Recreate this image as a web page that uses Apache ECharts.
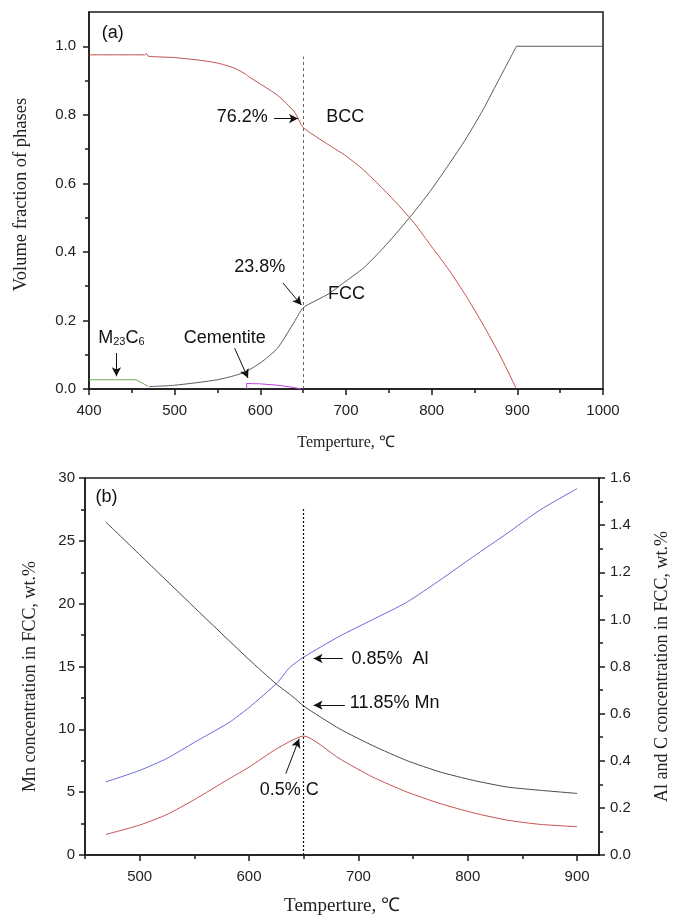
<!DOCTYPE html>
<html>
<head>
<meta charset="utf-8">
<script src="https://cdn.jsdelivr.net/npm/echarts@6/dist/echarts.min.js"></script>
<style>
html,body{margin:0;padding:0;background:#fff;}
#c{width:679px;height:917px;}
</style>
</head>
<body>
<div id="c"></div>
<script>
// ---------- (a) Volume fraction of phases ----------
const bccT = [400,465,467,469,500,530,550,570,584,586,600,620,640,650,680,700,720,740,760,780,800,820,840,860,880,899];
const bccV = [0.975,0.975,0.979,0.971,0.967,0.959,0.951,0.936,0.917,0.912,0.890,0.857,0.808,0.763,0.712,0.680,0.640,0.592,0.540,0.483,0.415,0.348,0.272,0.188,0.097,0.0];
const fccT = [470,500,550,580,600,620,640,650,680,700,720,740,760,780,800,820,840,860,880,899,1000];
const fccV = [0.007,0.011,0.027,0.047,0.076,0.119,0.197,0.237,0.278,0.315,0.352,0.402,0.458,0.518,0.583,0.655,0.730,0.815,0.910,1.0,1.0];
const m23T = [400,455,469];
const m23V = [0.027,0.027,0.008];
const cemT = [584,584,600,620,640,648];
const cemV = [0.0,0.016,0.015,0.011,0.004,0.0];
const yTicksA = [0,0.2,0.4,0.6,0.8,1.0];
const yMinorA = [0.1,0.3,0.5,0.7,0.9];

// ---------- (b) FCC compositions ----------
const mnT = [469,500,550,600,625,640,650,683,713,744,775,805,836,866,900];
const mnV = [26.5,23.9,19.7,15.55,13.6,12.6,11.85,10.03,8.71,7.52,6.6,5.94,5.41,5.15,4.9];
const alT = [469,500,525,550,582,600,626,637,650,683,713,744,775,805,836,866,900];
const alV = [0.31,0.359,0.41,0.478,0.563,0.626,0.732,0.795,0.84,0.929,0.999,1.072,1.168,1.266,1.365,1.464,1.555];
const cT = [469,500,525,550,582,600,625,650,683,713,744,775,805,836,866,900];
const cV = [0.087,0.127,0.172,0.235,0.324,0.373,0.45,0.505,0.408,0.331,0.268,0.218,0.179,0.148,0.13,0.12];
const xTicksB = [500,600,700,800,900];
const xMinorB = [450,550,650,750,850];

const zip = (a,b) => a.map((t,i)=>[t,b[i]]);
const SANS = 'Liberation Sans, Arial, sans-serif';
const SERIF = 'Liberation Serif, Times New Roman, serif';
const AX = '#1a1a1a';
const SM = 0.2;

// FCC: smooth rising part, straight fully-austenitic tail
const fccAll = zip(fccT, fccV);
const fccFull = fccV.indexOf(1.0);
const fccRise = fccAll.slice(0, fccFull + 1);
const fccTail = fccAll.slice(fccFull);

const labelStyle = {color:'#222', fontFamily:SANS, fontSize:15};
const nameStyle = {color:'#222', fontFamily:SERIF, fontSize:17};
const tickLine = {color:AX, width:1.5};

function arrow(from, to){ return [{coord:from},{coord:to}]; }
const arrowStyle = {color:'#111', width:1, type:'solid'};

const chart = echarts.init(document.getElementById('c'), null, {renderer:'canvas'});

const option = {
  backgroundColor:'#fff',
  animation:false,
  grid:[
    {left:89, right:76, top:12, height:377, show:true, borderColor:AX, borderWidth:1.5, backgroundColor:'transparent'},
    {left:85, right:80, top:478, height:379, show:true, borderColor:AX, borderWidth:1.5, backgroundColor:'transparent'}
  ],
  xAxis:[
    {gridIndex:0, type:'value', min:400, max:1000, interval:100, position:'bottom',
     name:'Temperture, ℃', nameLocation:'middle', nameGap:46, nameTextStyle:Object.assign({},nameStyle,{fontSize:16}),
     axisLine:{show:true, onZero:false, lineStyle:tickLine},
     axisTick:{show:true, length:6, lineStyle:tickLine},
     minorTick:{show:true, splitNumber:2, length:4, lineStyle:tickLine},
     axisLabel:Object.assign({margin:14, formatter:v=>String(v)}, labelStyle),
     splitLine:{show:false}},
    {gridIndex:1, type:'value', min:450, max:920, position:'bottom',
     name:'Temperture, ℃', nameLocation:'middle', nameGap:42, nameTextStyle:Object.assign({},nameStyle,{fontSize:19}),
     axisLine:{show:true, onZero:false, lineStyle:tickLine},
     axisTick:{show:true, length:6, customValues:xTicksB, lineStyle:tickLine},
     axisLabel:Object.assign({margin:14, customValues:xTicksB, formatter:v=>String(v)}, labelStyle),
     splitLine:{show:false}},
    {gridIndex:1, type:'value', min:450, max:920, position:'bottom',
     axisLine:{show:false, onZero:false},
     axisTick:{show:true, length:4, customValues:xMinorB, lineStyle:tickLine},
     axisLabel:{show:false},
     splitLine:{show:false}}
  ],
  yAxis:[
    {gridIndex:0, type:'value', min:0, max:1.1, position:'left',
     name:'Volume fraction of phases', nameLocation:'middle', nameGap:58,
     nameTextStyle:Object.assign({},nameStyle,{fontSize:18.5, padding:[0,0,0,12]}),
     axisLine:{show:true, lineStyle:tickLine},
     axisTick:{show:true, length:6, customValues:yTicksA, lineStyle:tickLine},
     axisLabel:Object.assign({margin:13, customValues:yTicksA, formatter:v=>v.toFixed(1)}, labelStyle),
     splitLine:{show:false}},
    {gridIndex:1, type:'value', min:0, max:30, interval:5, position:'left',
     name:'Mn concentration in FCC, wt.%', nameLocation:'middle', nameGap:46,
     nameTextStyle:Object.assign({},nameStyle,{fontSize:18, padding:[0,20,0,0]}),
     axisLine:{show:true, lineStyle:tickLine},
     axisTick:{show:true, length:6, lineStyle:tickLine},
     minorTick:{show:true, splitNumber:2, length:4, lineStyle:tickLine},
     axisLabel:Object.assign({margin:10}, labelStyle),
     splitLine:{show:false}},
    {gridIndex:1, type:'value', min:0, max:1.6, interval:0.2, position:'right',
     name:'Al and C concentration in FCC, wt.%', nameLocation:'middle', nameGap:54, nameTextStyle:Object.assign({},nameStyle,{fontSize:18}),
     axisLine:{show:true, lineStyle:tickLine},
     axisTick:{show:true, length:6, lineStyle:tickLine},
     minorTick:{show:true, splitNumber:2, length:4, lineStyle:tickLine},
     axisLabel:Object.assign({margin:11, formatter:v=>v.toFixed(1)}, labelStyle),
     splitLine:{show:false}},
    {gridIndex:0, type:'value', min:0, max:1.1, position:'left',
     axisLine:{show:false},
     axisTick:{show:true, length:4, customValues:yMinorA, lineStyle:tickLine},
     axisLabel:{show:false},
     splitLine:{show:false}}
  ],
  series:[
    {type:'line', name:'BCC', xAxisIndex:0, yAxisIndex:0, data:zip(bccT,bccV), symbol:'none', smooth:SM,
     lineStyle:{color:'#c0504d', width:1}, itemStyle:{color:'#c0504d'}, z:3,
     markLine:{silent:true, symbol:['none','none'], label:{show:false},
       lineStyle:{color:'#666', width:1, type:[3,3]},
       data:[[{coord:[650,0]},{coord:[650,0.97]}]]}},
    {type:'line', name:'FCC', xAxisIndex:0, yAxisIndex:0, data:fccRise, symbol:'none', smooth:SM,
     lineStyle:{color:'#5a5a5a', width:1}, itemStyle:{color:'#5a5a5a'}, z:3,
     markLine:{silent:true, symbol:['none','arrow'], symbolSize:[7,9], label:{show:false},
       lineStyle:arrowStyle,
       data:[
         arrow([616,0.789],[644,0.789]),
         arrow([626.5,0.309],[648,0.245]),
         arrow([432,0.105],[432,0.037]),
         arrow([570,0.119],[585.6,0.032])
       ]}},
    {type:'line', name:'FCC', xAxisIndex:0, yAxisIndex:0, data:fccTail, symbol:'none',
     lineStyle:{color:'#5a5a5a', width:1}, itemStyle:{color:'#5a5a5a'}, z:3},
    {type:'line', name:'M23C6', xAxisIndex:0, yAxisIndex:0, data:zip(m23T,m23V), symbol:'none',
     lineStyle:{color:'#70a860', width:1}, itemStyle:{color:'#70a860'}, z:3},
    {type:'line', name:'Cementite', xAxisIndex:0, yAxisIndex:0, data:zip(cemT,cemV), symbol:'none',
     lineStyle:{color:'#c040e0', width:1}, itemStyle:{color:'#c040e0'}, z:3},

    {type:'line', name:'Mn', xAxisIndex:1, yAxisIndex:1, data:zip(mnT,mnV), symbol:'none', smooth:SM,
     lineStyle:{color:'#4a4a4a', width:1}, itemStyle:{color:'#4a4a4a'}, z:3,
     markLine:{silent:true, symbol:['none','none'], label:{show:false},
       lineStyle:{color:'#111', width:1.2, type:[2,2]},
       data:[[{coord:[650,0]},{coord:[650,27.7]}]]}},
    {type:'line', name:'Al', xAxisIndex:1, yAxisIndex:2, data:zip(alT,alV), symbol:'none', smooth:SM,
     lineStyle:{color:'#6868dc', width:1}, itemStyle:{color:'#6868dc'}, z:3},
    {type:'line', name:'C', xAxisIndex:1, yAxisIndex:2, data:zip(cT,cV), symbol:'none', smooth:SM,
     lineStyle:{color:'#c85050', width:1}, itemStyle:{color:'#c85050'}, z:3,
     markLine:{silent:true, symbol:['none','arrow'], symbolSize:[7,9], label:{show:false},
       lineStyle:arrowStyle,
       data:[
         arrow([685.8,0.834],[659,0.834]),
         arrow([687.6,0.636],[659,0.636]),
         arrow([633.6,0.345],[645.8,0.493])
       ]}}
  ]
};
chart.setOption(option);

// text annotations placed in data coordinates
const notesA = [
  {t:'(a)', at:[414.8,1.04], align:'left'},
  {t:'76.2%', at:[579,0.793], align:'center'},
  {t:'BCC', at:[677,0.793], align:'left'},
  {t:'23.8%', at:[599.3,0.357], align:'center'},
  {t:'FCC', at:[679,0.277], align:'left'},
  {t:'{m|M}{s|23}{m|C}{s|6}', at:[437.8,0.148], align:'center', rich:true},
  {t:'Cementite', at:[558.4,0.148], align:'center'}
];
const notesB = [
  {t:'(b)', at:[459.7,28.5], align:'left'},
  {t:'0.85%  Al', at:[693.6,15.63], align:'left'},
  {t:'11.85% Mn', at:[692.2,12.09], align:'left'},
  {t:'0.5% C', at:[609.8,5.15], align:'left'}
];
const graphics = [];
function addNotes(list, xi, yi){
  list.forEach(n=>{
    const p = chart.convertToPixel({xAxisIndex:xi, yAxisIndex:yi}, n.at);
    const style = {text:n.t, x:p[0], y:p[1], align:n.align, verticalAlign:'middle',
      fill:'#111', font:'18px ' + SANS};
    if(n.rich){
      style.rich = {m:{fontSize:18, fontFamily:SANS, fill:'#111'}, s:{fontSize:11, fontFamily:SANS, fill:'#111', padding:[8,0,0,0]}};
    }
    graphics.push({type:'text', z:10, style:style});
  });
}
addNotes(notesA, 0, 0);
addNotes(notesB, 1, 1);
chart.setOption({graphic:graphics});
</script>
</body>
</html>
